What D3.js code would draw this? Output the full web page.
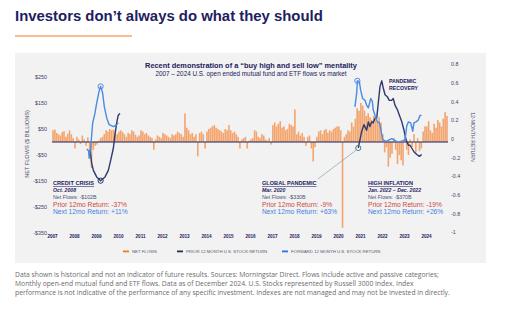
<!DOCTYPE html>
<html>
<head>
<meta charset="utf-8">
<script src="https://cdn.jsdelivr.net/npm/d3@7"></script>
<style>
  body { margin: 0; background: #fff; }
  svg { display: block; font-family: "Liberation Sans", Arial, sans-serif; }
</style>
</head>
<body>
<svg id="chart" width="519" height="324"></svg>
<script>
// monthly net flows, $B, Jan 2007 .. Dec 2024
const netFlows = [
  45, 48, 35, 30, 25, 38, 42, 20, 32, 45, 30, 15,        // 2007
  -25, 20, 10, -8, 25, 10, -15, 18, -40, -100, -30, -15, // 2008
  -10, 5, 15, 20, 30, 45, 40, 50, 45, 48, 40, 30,        // 2009
  40, 45, 38, 30, 20, 35, 30, 45, 40, 28, 20, 25,        // 2010
  45, 40, 30, 35, 25, 20, 15, -30, 10, 25, 20, 15,       // 2011
  35, 30, 25, 20, 15, 30, 25, 30, 40, 35, 30, 20,        // 2012
  110, 55, 45, 30, 35, 20, 30, -55, 35, 40, 30, -25,     // 2013
  40, 50, 55, 60, 65, 55, 50, 45, 40, 35, 50, 45,        // 2014
  65, 45, 35, 40, 30, 20, -25, 10, 15, 20, -25, 5,       // 2015
  10, 15, 45, 40, 20, 15, 30, 25, 10, 5, 15, -10,        // 2016
  65, 75, 60, 70, 80, 55, 60, 45, 50, 70, 65, 60,        // 2017
  125, 30, 40, 25, 35, 20, -15, 20, 25, -25, -75, -20,   // 2018
  20, 40, 45, 30, 45, 50, 35, 45, 40, 50, 55, 60,        // 2019
  60, 45, -330, 20, 30, 45, 40, 75, 60, 90, 130, 120,    // 2020
  150, 140, 120, 100, 110, 95, 85, 100, 90, 80, 95, 75,  // 2021
  30, -40, -20, -95, -60, -45, 15, -30, -85, -50, -70, -90, // 2022
  20, -30, -50, 10, -20, 30, -40, 15, -35, -25, 40, 60,  // 2023
  60, 80, 45, 35, 70, 55, 85, 75, 60, 90, 115, 100       // 2024
];

const years = d3.range(2007, 2025);
const flowTicks = [-350, -250, -150, -50, 50, 150, 250];
const returnTicks = [-1, -0.8, -0.6, -0.4, -0.2, 0, 0.2, 0.4, 0.6, 0.8];

// [year, return] as plotted
const priorCrisis = [
  [2008.73, -0.12], [2008.80, -0.26], [2008.88, -0.34], [2009.03, -0.41],
  [2009.21, -0.45], [2009.41, -0.41], [2009.56, -0.34], [2009.67, -0.23],
  [2009.79, -0.10], [2009.86, 0.04], [2009.94, 0.17], [2010.01, 0.25], [2010.09, 0.27]
];
const nextCrisis = [
  [2008.58, -0.11], [2008.66, -0.13], [2008.69, -0.21], [2008.76, -0.09],
  [2008.85, 0.17], [2008.95, 0.27], [2009.03, 0.38], [2009.15, 0.52],
  [2009.21, 0.56], [2009.30, 0.49], [2009.38, 0.34], [2009.49, 0.22],
  [2009.60, 0.15], [2009.79, 0.13], [2009.94, 0.15], [2010.01, 0.17]
];
const priorPandemic = [
  [2020.92, -0.10], [2021.00, -0.01], [2021.08, 0.08], [2021.18, 0.15],
  [2021.30, 0.09], [2021.38, 0.18], [2021.45, 0.13], [2021.53, 0.18],
  [2021.60, 0.17], [2021.68, 0.22], [2021.76, 0.22], [2021.83, 0.38],
  [2021.91, 0.56], [2021.99, 0.62], [2022.06, 0.54], [2022.14, 0.47],
  [2022.24, 0.45], [2022.33, 0.41], [2022.44, 0.41], [2022.51, 0.43],
  [2022.59, 0.36], [2022.70, 0.31], [2022.79, 0.25], [2022.90, 0.18],
  [2023.00, 0.09], [2023.09, -0.01], [2023.20, -0.07], [2023.27, -0.07],
  [2023.35, -0.10], [2023.45, -0.14], [2023.58, -0.17], [2023.70, -0.19], [2023.80, -0.17]
];
const nextPandemic = [
  [2020.77, 0.34], [2020.85, 0.49], [2020.88, 0.62], [2020.97, 0.61],
  [2021.03, 0.52], [2021.12, 0.43], [2021.23, 0.41], [2021.30, 0.36],
  [2021.38, 0.33], [2021.49, 0.43], [2021.56, 0.40], [2021.60, 0.31],
  [2021.68, 0.25], [2021.79, 0.18], [2021.88, 0.17], [2021.94, 0.11],
  [2022.03, -0.01], [2022.18, -0.03], [2022.45, 0.0], [2022.73, -0.04],
  [2022.95, -0.02], [2023.05, -0.01], [2023.12, 0.13], [2023.20, 0.18],
  [2023.30, 0.17], [2023.40, 0.08], [2023.45, 0.17], [2023.55, 0.18],
  [2023.65, 0.20], [2023.73, 0.25], [2023.80, 0.25]
];
// circled points
const markers = [
  { t: 2009.21, v: -0.45, color: '#2a3170' },
  { t: 2009.21, v: 0.56, color: '#4a8be3' },
  { t: 2020.88, v: 0.62, color: '#4a8be3' },
  { t: 2020.92, v: -0.10, color: '#4d7f86' }
];

const events = [
  { x: 53, title: 'CREDIT CRISIS', date: 'Oct. 2008', flows: 'Net Flows: -$102B', prior: 'Prior 12mo Return: -37%', next: 'Next 12mo Return: +11%' },
  { x: 262, title: 'GLOBAL PANDEMIC', date: 'Mar. 2020', flows: 'Net Flows: -$330B', prior: 'Prior 12mo Return: -9%', next: 'Next 12mo Return: +63%' },
  { x: 368, title: 'HIGH INFLATION', date: 'Jan. 2022 \u2013 Dec. 2022', flows: 'Net Flows: -$370B', prior: 'Prior 12mo Return: -19%', next: 'Next 12mo Return: +26%' }
];

const navy = '#1d2160';
const orange = '#f3a56d';
const darkLine = '#2f3a6c';
const blueLine = '#4a8be3';

const svg = d3.select('#chart');

// header
svg.append('text')
  .attr('x', 15).attr('y', 21)
  .attr('font-size', 14.9).attr('font-weight', 700)
  .attr('fill', navy)
  .text('Investors don\u2019t always do what they should');

svg.append('line')
  .attr('x1', 15).attr('x2', 132).attr('y1', 36).attr('y2', 36)
  .attr('stroke', '#f07c22').attr('stroke-width', 1);

svg.append('rect')
  .attr('x', 15).attr('y', 53).attr('width', 471).attr('height', 210)
  .attr('fill', '#f2f2f2');

svg.append('text')
  .attr('x', 251).attr('y', 68).attr('text-anchor', 'middle')
  .attr('font-size', 7.4).attr('font-weight', 700).attr('fill', navy)
  .text('Recent demonstration of a \u201cbuy high and sell low\u201d mentality');
svg.append('text')
  .attr('x', 251).attr('y', 76).attr('text-anchor', 'middle')
  .attr('font-size', 6.35).attr('fill', navy)
  .text('2007 \u2013 2024 U.S. open ended mutual fund and ETF flows vs market');

// scales
const x = d3.scaleLinear().domain([2007, 2025]).range([52, 448]);
const xBand = d3.scaleBand().domain(d3.range(netFlows.length)).range([52, 448]).padding(0.12);
const yFlow = d3.scaleLinear().domain([-350, 250]).range([233, 77]);
const yRet = d3.scaleLinear().domain([-1, 0.8]).range([232, 64]);

// axes
const leftAxis = svg.append('g')
  .attr('transform', 'translate(48,0)')
  .call(d3.axisLeft(yFlow).tickValues(flowTicks).tickSize(0).tickPadding(1)
    .tickFormat(d => (d < 0 ? '-$' : '$') + Math.abs(d)));
const rightAxis = svg.append('g')
  .attr('transform', 'translate(450,0)')
  .call(d3.axisRight(yRet).tickValues(returnTicks).tickSize(0).tickPadding(1)
    .tickFormat(d => String(+d.toFixed(1))));
const bottomAxis = svg.append('g')
  .attr('transform', 'translate(0,235)')
  .call(d3.axisBottom(x).tickValues(years).tickSize(0).tickPadding(0)
    .tickFormat(d3.format('d')));

[leftAxis, rightAxis, bottomAxis].forEach(g => {
  g.select('.domain').remove();
  g.selectAll('text').attr('fill', '#3b3f6a').style('font-family', '"Liberation Sans", Arial, sans-serif');
});
leftAxis.selectAll('text').attr('font-size', 5.4);
rightAxis.selectAll('text').attr('font-size', 5.3);
bottomAxis.selectAll('text').attr('font-size', 4.6).attr('font-weight', 700).attr('fill', navy);

svg.append('text')
  .attr('transform', 'translate(29,144) rotate(-90)')
  .attr('text-anchor', 'middle').attr('font-size', 5.6).attr('fill', '#4a4d6e')
  .text('NET FLOWS ($ BILLIONS)');
svg.append('text')
  .attr('transform', 'translate(471,137) rotate(90)')
  .attr('text-anchor', 'middle').attr('font-size', 5.2).attr('fill', '#4a4d6e')
  .text('12-MONTH RETURN');

// bars
svg.append('g')
  .selectAll('rect')
  .data(netFlows)
  .join('rect')
  .attr('x', (d, i) => xBand(i))
  .attr('width', xBand.bandwidth())
  .attr('y', d => yFlow(Math.max(0, d)))
  .attr('height', d => Math.abs(yFlow(d) - yFlow(0)))
  .attr('fill', orange);

// zero line
svg.append('line')
  .attr('x1', 52).attr('x2', 448)
  .attr('y1', yFlow(0)).attr('y2', yFlow(0))
  .attr('stroke', navy).attr('stroke-width', 1);

// return lines
const line = d3.line().x(d => x(d[0])).y(d => yRet(d[1]));
[[priorCrisis, darkLine], [nextCrisis, blueLine], [priorPandemic, darkLine], [nextPandemic, blueLine]]
  .forEach(([data, color]) => {
    svg.append('path')
      .datum(data)
      .attr('d', line)
      .attr('fill', 'none')
      .attr('stroke', color)
      .attr('stroke-width', 1.4)
      .attr('stroke-linejoin', 'round');
  });

// pointer from pandemic marker to its note
svg.append('line')
  .attr('x1', x(2020.92) - 2).attr('y1', yRet(-0.10) + 2)
  .attr('x2', 318).attr('y2', 179)
  .attr('stroke', '#7fa4aa').attr('stroke-width', 0.7);

svg.append('g')
  .selectAll('circle')
  .data(markers)
  .join('circle')
  .attr('cx', d => x(d.t))
  .attr('cy', d => yRet(d.v))
  .attr('r', 2.6)
  .attr('fill', 'none')
  .attr('stroke', d => d.color)
  .attr('stroke-width', 1);

svg.append('text')
  .attr('x', 389).attr('y', 83)
  .attr('font-size', 5.2).attr('font-weight', 700).attr('fill', navy)
  .selectAll('tspan')
  .data(['PANDEMIC', 'RECOVERY'])
  .join('tspan')
  .attr('x', 389)
  .attr('dy', (d, i) => i ? 6.5 : 0)
  .text(d => d);

// event notes
const notes = svg.append('g')
  .selectAll('g')
  .data(events)
  .join('g')
  .attr('transform', d => `translate(${d.x},0)`);
notes.append('text')
  .attr('y', 185).attr('font-size', 5.6).attr('font-weight', 700)
  .attr('fill', navy).attr('text-decoration', 'underline')
  .text(d => d.title);
notes.append('text')
  .attr('y', 191.5).attr('font-size', 5.2).attr('font-weight', 700)
  .attr('font-style', 'italic').attr('fill', navy)
  .text(d => d.date);
notes.append('text')
  .attr('y', 199).attr('font-size', 5.3).attr('fill', '#4c5070')
  .text(d => d.flows);
notes.append('text')
  .attr('y', 206.5).attr('font-size', 6.7).attr('fill', '#c8473d')
  .text(d => d.prior);
notes.append('text')
  .attr('y', 214).attr('font-size', 6.7).attr('fill', '#3f7fe0')
  .text(d => d.next);

// legend
const legendItems = [
  { x: 123, label: 'NET FLOWS', color: '#f07c22' },
  { x: 177, label: 'PRIOR 12 MONTH U.S. STOCK RETURN', color: '#1f3550' },
  { x: 282, label: 'FORWARD 12 MONTH U.S. STOCK RETURN', color: '#2f6fe0' }
];
const legend = svg.append('g')
  .selectAll('g')
  .data(legendItems)
  .join('g')
  .attr('transform', d => `translate(${d.x},252)`);
legend.append('rect')
  .attr('width', 6).attr('height', 1.8).attr('y', -1.5)
  .attr('fill', d => d.color);
legend.append('text')
  .attr('x', 9).attr('y', 1.4)
  .attr('font-size', 4.3).attr('fill', '#55586e')
  .text(d => d.label);

// footnote
const footnote = [
  'Data shown is historical and not an indicator of future results. Sources: Morningstar Direct. Flows include active and passive categories;',
  'Monthly open-end mutual fund and ETF flows. Data as of December 2024. U.S. Stocks represented by Russell 3000 Index. Index',
  'performance is not indicative of the performance of any specific investment. Indexes are not managed and may not be invested in directly.'
];
svg.append('g')
  .selectAll('text')
  .data(footnote)
  .join('text')
  .attr('x', 15)
  .attr('y', (d, i) => 277 + i * 9)
  .attr('font-size', 6.75)
  .attr('fill', '#6b6b6b')
  .style('font-family', '"Open Sans", "Noto Sans", sans-serif')
  .text(d => d);
</script>
</body>
</html>
